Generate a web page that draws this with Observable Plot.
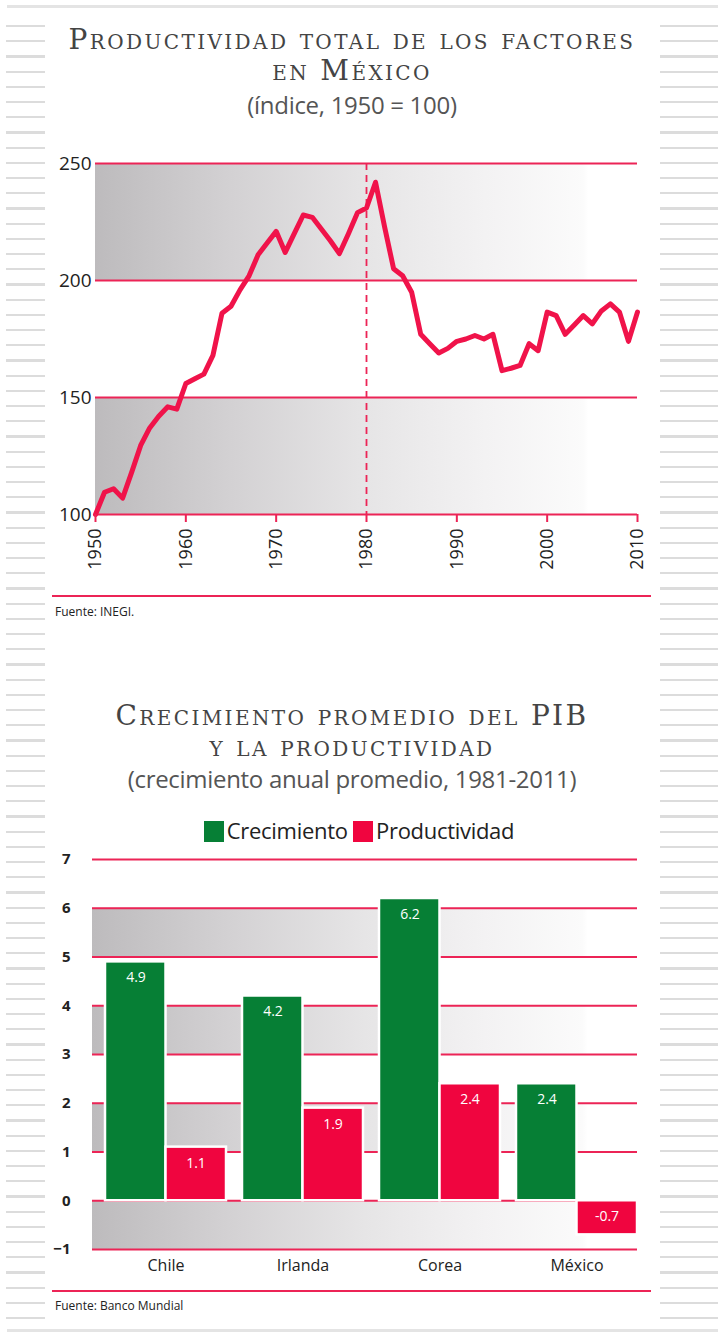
<!DOCTYPE html>
<html><head><meta charset="utf-8">
<script src="https://cdn.jsdelivr.net/npm/d3@7"></script>
<script src="https://cdn.jsdelivr.net/npm/@observablehq/plot@0.6"></script>
<style>
body{margin:0;background:#fff;}
#page{position:relative;width:718px;height:1341px;overflow:hidden;font-family:"Open Sans",sans-serif;color:#222;}
.stripes{position:absolute;background:repeating-linear-gradient(to bottom, transparent 0px, transparent 13px, #dcdcdc 13px, #dcdcdc 15.2px);}
.hline{position:absolute;height:3px;background:#e4e4e4;}
.title{position:absolute;left:0;width:704px;text-align:center;font-family:"DejaVu Serif",serif;font-variant:small-caps;color:#444;font-size:28px;letter-spacing:2.4px;line-height:31px;}
.sub{position:absolute;left:0;width:704px;text-align:center;font-family:"Open Sans",sans-serif;color:#555;font-size:24px;letter-spacing:-0.3px;}
.redline{position:absolute;left:52px;width:599px;height:2px;background:#ec2456;}
.src{position:absolute;left:55px;font-size:12px;color:#222;font-family:"Open Sans",sans-serif;}
.legend{position:absolute;left:0;width:718px;text-align:center;font-size:22px;color:#222;letter-spacing:-0.3px;}
.sw{display:inline-block;width:20px;height:21px;vertical-align:-3px;margin:0 3px 0 0;}
.chart{position:absolute;left:0;}
</style></head>
<body><div id="page">
<div class="hline" style="left:7px;width:711px;top:5px"></div>
<div class="hline" style="left:7px;width:711px;top:1329px"></div>
<div class="stripes" style="left:6px;width:39px;top:12px;height:1312px"></div>
<div class="stripes" style="left:660px;width:58px;top:12px;height:1312px"></div>

<div class="title" style="top:24px">Productividad total de los factores<br>en México</div>
<div class="sub" style="top:88px">(índice, 1950 = 100)</div>
<div id="c1" class="chart" style="top:140px"></div>
<div class="redline" style="top:595px"></div>
<div class="src" style="top:603px">Fuente: INEGI.</div>

<div class="title" style="top:700px">Crecimiento promedio del PIB<br>y la productividad</div>
<div class="sub" style="top:762px">(crecimiento anual promedio, 1981-2011)</div>
<div class="legend" style="top:815px"><span class="sw" style="background:#067f35"></span>Crecimiento <span class="sw" style="background:#f0053f"></span>Productividad</div>
<div id="c2" class="chart" style="top:845px"></div>
<div class="redline" style="top:1290px"></div>
<div class="src" style="top:1297px">Fuente: Banco Mundial</div>
</div>
<script>
// ---- Chart 1 data ----
const years = d3.range(1950, 2011);
const ptf = [100,109.5,111,107,118,129.5,137,142,146,145,
  156,158,160,168,186,189,196,202,211,216,
  221,212,220,228,227,222,217,211.5,220,229,
  231,242,223,205,202,195,177,173,169,171,
  174,175,176.5,175,177,161.5,162.5,163.7,173,170,
  186.5,185,177,181,185,181.5,187,190,186.5,174,
  186.5];
const xTicks1 = [1950,1960,1970,1980,1990,2000,2010];
const yTicks1 = [100,150,200,250];
const bands1 = [[100,150],[200,250]];
const markYear = [1980];

// ---- Chart 2 data ----
const countries = ["Chile","Irlanda","Corea","México"];
const crecimiento = [4.9,4.2,6.2,2.4];
const productividad = [1.1,1.9,2.4,-0.7];
const yTicks2 = [-1,0,1,2,3,4,5,6,7];
const bands2 = [[-1,0],[1,2],[3,4],[5,6]];

const RED = "#ec2456", LINE = "#f0134a", GREEN = "#067f35", BARRED = "#f0053f";

function addGradient(svg, id){
  d3.select(svg).insert("defs", ":first-child").html(
    `<linearGradient id="${id}" x1="0" x2="1" y1="0" y2="0">
      <stop offset="0" stop-color="#bdbbbd"/>
      <stop offset="0.25" stop-color="#d3d1d3"/>
      <stop offset="0.5" stop-color="#e6e5e6"/>
      <stop offset="0.72" stop-color="#f3f2f3"/>
      <stop offset="0.9" stop-color="#fbfbfb"/>
      <stop offset="0.91" stop-color="#ffffff"/>
    </linearGradient>`);
}

const series = years.map((y,i)=>({year:y, value:ptf[i]}));
const p1 = Plot.plot({
  width:718, height:450,
  marginLeft:95, marginRight:81, marginTop:23, marginBottom:76,
  style:{fontFamily:"Open Sans, sans-serif", background:"transparent"},
  x:{domain:[1950,2010]},
  y:{domain:[100,250]},
  marks:[
    Plot.rect(bands1, {y1:d=>d[0], y2:d=>d[1], fill:"url(#fade1)"}),
    Plot.ruleY(yTicks1, {stroke:RED, strokeWidth:2}),
    Plot.ruleX(markYear, {stroke:RED, strokeWidth:1.8, strokeDasharray:"7,5"}),
    Plot.line(series, {x:"year", y:"value", stroke:LINE, strokeWidth:5}),
    Plot.axisX({ticks:xTicks1, tickFormat:d=>String(d), tickRotate:-90, tickSize:8, tickPadding:6, stroke:RED, strokeWidth:2, fill:"#222", fontSize:18, label:null}),
    Plot.axisY({ticks:yTicks1, tickSize:0, tickPadding:4, fill:"#222", fontSize:19, label:null})
  ]
});
addGradient(p1, "fade1");
document.getElementById("c1").appendChild(p1);

const bars = countries.map((c,i)=>({country:c, crec:crecimiento[i], prod:productividad[i]}));
const p2 = Plot.plot({
  width:718, height:445,
  marginLeft:92, marginRight:81, marginTop:14, marginBottom:41,
  style:{fontFamily:"Open Sans, sans-serif", background:"transparent"},
  x:{type:"band", domain:countries, paddingInner:0.12, paddingOuter:0.042, align:1},
  y:{domain:[-1,7]},
  marks:[
    Plot.rect(bands2, {y1:d=>d[0], y2:d=>d[1], fill:"url(#fade2)"}),
    Plot.ruleY(yTicks2, {stroke:RED, strokeWidth:2}),
    Plot.barY(bars, {x:"country", y:"crec", fill:GREEN, stroke:"white", strokeWidth:2.5, insetRight:60.5}),
    Plot.barY(bars, {x:"country", y:"prod", fill:BARRED, stroke:"white", strokeWidth:2.5, insetLeft:60.5}),
    Plot.text(bars, {x:"country", y:d=>Math.max(d.crec,0), text:d=>d.crec.toFixed(1), dx:-30, dy:16, fill:"white", fontSize:14}),
    Plot.text(bars, {x:"country", y:d=>Math.max(d.prod,0), text:d=>d.prod.toFixed(1), dx:30, dy:16, fill:"white", fontSize:14}),
    Plot.axisX({tickSize:0, tickPadding:10, fill:"#222", fontSize:16, label:null}),
    Plot.axisY({ticks:yTicks2, tickSize:0, tickPadding:22, fill:"#222", fontSize:15, fontWeight:"bold", label:null})
  ]
});
addGradient(p2, "fade2");
document.getElementById("c2").appendChild(p2);
</script>
</body></html>
